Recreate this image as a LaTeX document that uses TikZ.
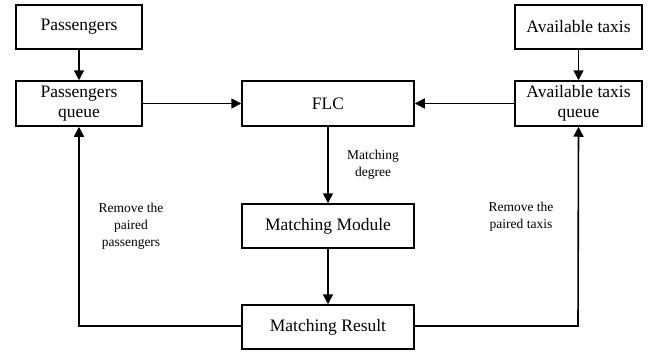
\documentclass[tikz,border=0pt]{standalone}
\usepackage{fontspec}
\setmainfont{Liberation Serif}
\usetikzlibrary{arrows.meta}
\begin{document}
\begin{tikzpicture}[x=1pt,y=-1pt,
  box/.style={draw,line width=1.5pt,font=\fontsize{17.5}{20}\selectfont,align=center,inner sep=0pt},
  lab/.style={font=\fontsize{13.5}{17}\selectfont,align=center},
  conn/.style={line width=1.6pt,-{Triangle[length=10pt,width=10pt]}}]
\useasboundingbox (0,0) rectangle (655,356);
\node[box,minimum width=126pt,minimum height=44pt] (pass) at (79,27) {Passengers};
\node[box,minimum width=126pt,minimum height=45pt] (passq) at (79,103.5) {Passengers\\queue};
\node[box,minimum width=172pt,minimum height=45pt] (flc) at (328,103.5) {FLC};
\node[box,minimum width=127pt,minimum height=44pt] (taxi) at (578.5,27) {Available taxis};
\node[box,minimum width=127pt,minimum height=45pt] (taxiq) at (578.5,103.5) {Available taxis\\queue};
\node[box,minimum width=172pt,minimum height=44pt] (mm) at (328,226) {Matching Module};
\node[box,minimum width=172pt,minimum height=44pt] (mr) at (328,327) {Matching Result};
\draw[conn] (pass) -- (passq);
\draw[conn] (taxi) -- (taxiq);
\draw[conn] (passq) -- (flc);
\draw[conn] (taxiq) -- (flc);
\draw[conn] (flc) -- (mm);
\draw[conn] (mm) -- (mr);
\coordinate (lc) at (79,326);
\coordinate (rc) at (578,326);
\draw[conn] (mr.west |- lc) -- (lc) -- (passq.south);
\draw[conn] (mr.east |- rc) -- (rc) -- (taxiq.south);
\node[lab] (md) at (373,165) {Matching\\degree};
\node[lab] (rp) at (131,226) {Remove the\\paired\\passengers};
\node[lab] (rt) at (521,217) {Remove the\\paired taxis};
\end{tikzpicture}
\end{document}
